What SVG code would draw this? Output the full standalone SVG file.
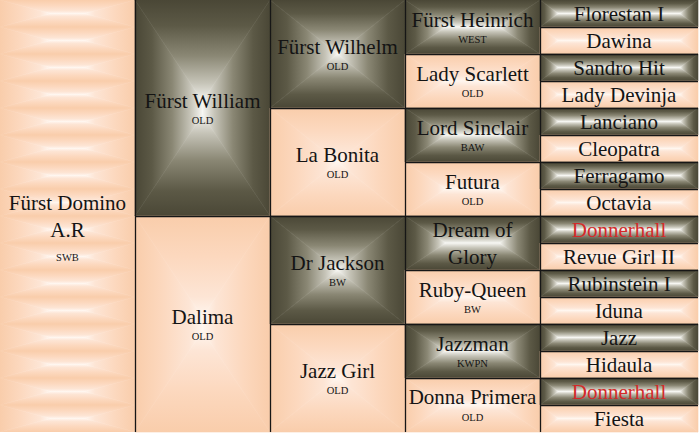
<svg xmlns="http://www.w3.org/2000/svg" xmlns:xlink="http://www.w3.org/1999/xlink" width="700" height="435" viewBox="0 0 700 435" font-family="'Liberation Serif', 'Times New Roman', serif">
<style>
text{font-family:'Liberation Serif','Times New Roman',serif;text-anchor:middle;fill:#141414}
.n{font-size:21px}
.s{font-size:10.5px}
.red{fill:#d42a2a}
.dT{fill:url(#dT);stroke:url(#dT)}.dB{fill:url(#dB);stroke:url(#dB)}.dL{fill:url(#dL);stroke:url(#dL)}.dR{fill:url(#dR);stroke:url(#dR)}
.lT{fill:url(#lT);stroke:url(#lT)}.lB{fill:url(#lB);stroke:url(#lB)}.lL{fill:url(#lL);stroke:url(#lL)}.lR{fill:url(#lR);stroke:url(#lR)}
polygon{stroke-width:0.6}
.grid line{stroke:#161616;stroke-width:1.3}
</style>
<defs>
<linearGradient id="dk"><stop offset="0" stop-color="#4a4736"/><stop offset="0.25" stop-color="#5c5946"/><stop offset="0.55" stop-color="#8a8774"/><stop offset="0.82" stop-color="#c6c4b8"/><stop offset="1" stop-color="#f6f6f2"/></linearGradient>
<linearGradient id="lt"><stop offset="0" stop-color="#f9cdab"/><stop offset="0.4" stop-color="#fcd8be"/><stop offset="0.8" stop-color="#fde5d5"/><stop offset="1" stop-color="#fff6ef"/></linearGradient>
<linearGradient id="dT" href="#dk" xlink:href="#dk" x1="0" y1="0" x2="0" y2="1"/>
<linearGradient id="dB" href="#dk" xlink:href="#dk" x1="0" y1="1" x2="0" y2="0"/>
<linearGradient id="dL" href="#dk" xlink:href="#dk" x1="0" y1="0" x2="1" y2="0"/>
<linearGradient id="dR" href="#dk" xlink:href="#dk" x1="1" y1="0" x2="0" y2="0"/>
<linearGradient id="lT" href="#lt" xlink:href="#lt" x1="0" y1="0" x2="0" y2="1"/>
<linearGradient id="lB" href="#lt" xlink:href="#lt" x1="0" y1="1" x2="0" y2="0"/>
<linearGradient id="lL" href="#lt" xlink:href="#lt" x1="0" y1="0" x2="1" y2="0"/>
<linearGradient id="lR" href="#lt" xlink:href="#lt" x1="1" y1="0" x2="0" y2="0"/>
<g id="D216"><polygon class="dT" points="0,0 135,0 67.5,101.25"/><polygon class="dB" points="0,216 135,216 67.5,114.75"/><polygon class="dL" points="0,0 67.5,101.25 67.5,114.75 0,216"/><polygon class="dR" points="135,0 67.5,101.25 67.5,114.75 135,216"/></g>
<g id="L216"><polygon class="lT" points="0,0 135,0 67.5,101.25"/><polygon class="lB" points="0,216 135,216 67.5,114.75"/><polygon class="lL" points="0,0 67.5,101.25 67.5,114.75 0,216"/><polygon class="lR" points="135,0 67.5,101.25 67.5,114.75 135,216"/></g>
<g id="D108"><polygon class="dT" points="0,0 135,0 67.5,54"/><polygon class="dB" points="0,108 135,108 67.5,54"/><polygon class="dL" points="0,0 67.5,54 0,108"/><polygon class="dR" points="135,0 67.5,54 135,108"/></g>
<g id="L108"><polygon class="lT" points="0,0 135,0 67.5,54"/><polygon class="lB" points="0,108 135,108 67.5,54"/><polygon class="lL" points="0,0 67.5,54 0,108"/><polygon class="lR" points="135,0 67.5,54 135,108"/></g>
<g id="D54"><polygon class="dT" points="0,0 135,0 94.5,27 40.5,27"/><polygon class="dB" points="0,54 135,54 94.5,27 40.5,27"/><polygon class="dL" points="0,0 40.5,27 0,54"/><polygon class="dR" points="135,0 94.5,27 135,54"/></g>
<g id="L54"><polygon class="lT" points="0,0 135,0 94.5,27 40.5,27"/><polygon class="lB" points="0,54 135,54 94.5,27 40.5,27"/><polygon class="lL" points="0,0 40.5,27 0,54"/><polygon class="lR" points="135,0 94.5,27 135,54"/></g>
<g id="D27"><polygon class="dT" points="0,0 158,0 140,13.5 18,13.5"/><polygon class="dB" points="0,27 158,27 140,13.5 18,13.5"/><polygon class="dL" points="0,0 18,13.5 0,27"/><polygon class="dR" points="158,0 140,13.5 158,27"/></g>
<g id="L27"><polygon class="lT" points="0,0 158,0 140,13.5 18,13.5"/><polygon class="lB" points="0,27 158,27 140,13.5 18,13.5"/><polygon class="lL" points="0,0 18,13.5 0,27"/><polygon class="lR" points="158,0 140,13.5 158,27"/></g>
<pattern id="tile" width="135" height="27" patternUnits="userSpaceOnUse"><polygon class="lT" points="0,0 135,0 85,13.5 50,13.5"/><polygon class="lB" points="0,27 135,27 85,13.5 50,13.5"/><polygon class="lL" points="0,0 50,13.5 0,27"/><polygon class="lR" points="135,0 85,13.5 135,27"/></pattern>
</defs>
<rect width="700" height="435" fill="#ffffff"/>

<g id="n-furst-domino"><rect x="0" y="0" width="135" height="432" fill="url(#tile)"/><text class="n" x="67.5" y="210">Fürst Domino</text><text class="n" x="67.5" y="237">A.R</text><text class="s" x="67.5" y="261">SWB</text></g>

<g id="n-furst-william"><use href="#D216" xlink:href="#D216" x="135" y="0"/><text class="n" x="202.5" y="108">Fürst William</text><text class="s" x="202.5" y="124">OLD</text></g>
<g id="n-dalima"><use href="#L216" xlink:href="#L216" x="135" y="216"/><text class="n" x="202.5" y="324">Dalima</text><text class="s" x="202.5" y="340">OLD</text></g>

<g id="n-furst-wilhelm"><use href="#D108" xlink:href="#D108" x="270" y="0"/><text class="n" x="337.5" y="54">Fürst Wilhelm</text><text class="s" x="337.5" y="70">OLD</text></g>
<g id="n-la-bonita"><use href="#L108" xlink:href="#L108" x="270" y="108"/><text class="n" x="337.5" y="162">La Bonita</text><text class="s" x="337.5" y="178">OLD</text></g>
<g id="n-dr-jackson"><use href="#D108" xlink:href="#D108" x="270" y="216"/><text class="n" x="337.5" y="270">Dr Jackson</text><text class="s" x="337.5" y="286">BW</text></g>
<g id="n-jazz-girl"><use href="#L108" xlink:href="#L108" x="270" y="324"/><text class="n" x="337.5" y="378">Jazz Girl</text><text class="s" x="337.5" y="394">OLD</text></g>

<g id="n-furst-heinrich"><use href="#D54" xlink:href="#D54" x="405" y="0"/><text class="n" x="472.5" y="27">Fürst Heinrich</text><text class="s" x="472.5" y="43">WEST</text></g>
<g id="n-lady-scarlett"><use href="#L54" xlink:href="#L54" x="405" y="54"/><text class="n" x="472.5" y="81">Lady Scarlett</text><text class="s" x="472.5" y="97">OLD</text></g>
<g id="n-lord-sinclair"><use href="#D54" xlink:href="#D54" x="405" y="108"/><text class="n" x="472.5" y="135">Lord Sinclair</text><text class="s" x="472.5" y="151">BAW</text></g>
<g id="n-futura"><use href="#L54" xlink:href="#L54" x="405" y="162"/><text class="n" x="472.5" y="189">Futura</text><text class="s" x="472.5" y="205">OLD</text></g>
<g id="n-dream-of-glory"><use href="#D54" xlink:href="#D54" x="405" y="216"/><text class="n" x="472.5" y="237">Dream of</text><text class="n" x="472.5" y="264">Glory</text></g>
<g id="n-ruby-queen"><use href="#L54" xlink:href="#L54" x="405" y="270"/><text class="n" x="472.5" y="297">Ruby-Queen</text><text class="s" x="472.5" y="313">BW</text></g>
<g id="n-jazzman"><use href="#D54" xlink:href="#D54" x="405" y="324"/><text class="n" x="472.5" y="351">Jazzman</text><text class="s" x="472.5" y="367">KWPN</text></g>
<g id="n-donna-primera"><use href="#L54" xlink:href="#L54" x="405" y="378"/><text class="n" x="472.5" y="404">Donna Primera</text><text class="s" x="472.5" y="421">OLD</text></g>

<g id="n-florestan-i"><use href="#D27" xlink:href="#D27" x="540" y="0"/><text class="n" x="619" y="21">Florestan I</text></g>
<g id="n-dawina"><use href="#L27" xlink:href="#L27" x="540" y="27"/><text class="n" x="619" y="48">Dawina</text></g>
<g id="n-sandro-hit"><use href="#D27" xlink:href="#D27" x="540" y="54"/><text class="n" x="619" y="75">Sandro Hit</text></g>
<g id="n-lady-devinja"><use href="#L27" xlink:href="#L27" x="540" y="81"/><text class="n" x="619" y="102">Lady Devinja</text></g>
<g id="n-lanciano"><use href="#D27" xlink:href="#D27" x="540" y="108"/><text class="n" x="619" y="129">Lanciano</text></g>
<g id="n-cleopatra"><use href="#L27" xlink:href="#L27" x="540" y="135"/><text class="n" x="619" y="156">Cleopatra</text></g>
<g id="n-ferragamo"><use href="#D27" xlink:href="#D27" x="540" y="162"/><text class="n" x="619" y="183">Ferragamo</text></g>
<g id="n-octavia"><use href="#L27" xlink:href="#L27" x="540" y="189"/><text class="n" x="619" y="210">Octavia</text></g>
<g id="n-donnerhall-1"><use href="#D27" xlink:href="#D27" x="540" y="216"/><text class="n red" x="619" y="237">Donnerhall</text></g>
<g id="n-revue-girl-ii"><use href="#L27" xlink:href="#L27" x="540" y="243"/><text class="n" x="619" y="264">Revue Girl II</text></g>
<g id="n-rubinstein-i"><use href="#D27" xlink:href="#D27" x="540" y="270"/><text class="n" x="619" y="291">Rubinstein I</text></g>
<g id="n-iduna"><use href="#L27" xlink:href="#L27" x="540" y="297"/><text class="n" x="619" y="318">Iduna</text></g>
<g id="n-jazz"><use href="#D27" xlink:href="#D27" x="540" y="324"/><text class="n" x="619" y="345">Jazz</text></g>
<g id="n-hidaula"><use href="#L27" xlink:href="#L27" x="540" y="351"/><text class="n" x="619" y="372">Hidaula</text></g>
<g id="n-donnerhall-2"><use href="#D27" xlink:href="#D27" x="540" y="378"/><text class="n red" x="619" y="399">Donnerhall</text></g>
<g id="n-fiesta"><use href="#L27" xlink:href="#L27" x="540" y="405"/><text class="n" x="619" y="426">Fiesta</text></g>

<g id="connectors" class="grid">
<line x1="135.5" y1="0" x2="135.5" y2="432"/>
<line x1="270.5" y1="0" x2="270.5" y2="432"/>
<line x1="405.5" y1="0" x2="405.5" y2="432"/>
<line x1="540.5" y1="0" x2="540.5" y2="432"/>
<line x1="135" y1="216.5" x2="698" y2="216.5"/>
<line x1="270" y1="108.5" x2="698" y2="108.5"/>
<line x1="270" y1="324.5" x2="698" y2="324.5"/>
<line x1="405" y1="54.5" x2="698" y2="54.5"/>
<line x1="405" y1="162.5" x2="698" y2="162.5"/>
<line x1="405" y1="270.5" x2="698" y2="270.5"/>
<line x1="405" y1="378.5" x2="698" y2="378.5"/>
<line x1="540" y1="27.5" x2="698" y2="27.5"/>
<line x1="540" y1="81.5" x2="698" y2="81.5"/>
<line x1="540" y1="135.5" x2="698" y2="135.5"/>
<line x1="540" y1="189.5" x2="698" y2="189.5"/>
<line x1="540" y1="243.5" x2="698" y2="243.5"/>
<line x1="540" y1="297.5" x2="698" y2="297.5"/>
<line x1="540" y1="351.5" x2="698" y2="351.5"/>
<line x1="540" y1="405.5" x2="698" y2="405.5"/>
</g>
</svg>
